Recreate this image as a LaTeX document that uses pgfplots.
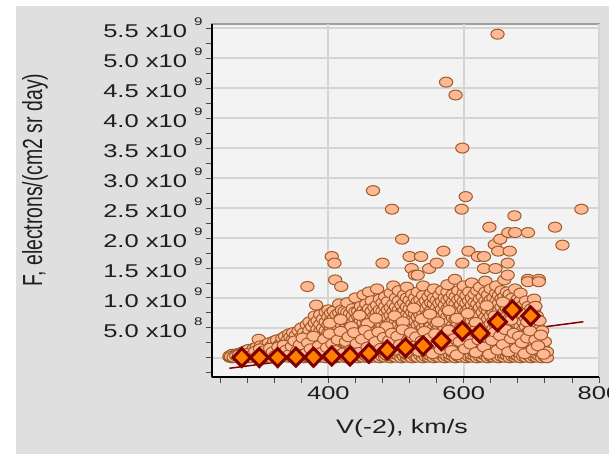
\documentclass[border=0pt]{standalone}
\usepackage{pgfplots}
\pgfplotsset{compat=1.18}
\usepackage{graphicx}
\usepackage{fontspec}
\setmainfont{Liberation Sans}[FakeStretch=1.38]
\newfontfamily\plainsans{Liberation Sans}
\definecolor{panelgray}{HTML}{DFDFDF}
\definecolor{plotbg}{HTML}{F3F3F3}
\definecolor{gridgray}{HTML}{D5D5D5}
\definecolor{peach}{HTML}{FFB894}
\definecolor{peachedge}{HTML}{9E5A26}
\definecolor{darkred}{HTML}{800000}
\definecolor{dorange}{HTML}{FF8000}
\definecolor{txt}{HTML}{1E1E1E}
% tick label: mantissa x10 with raised exponent
\newcommand{\yl}[2]{#1 x10\raisebox{12pt}{\fontsize{11}{11}\selectfont\hspace{7pt}#2}}
\begin{document}
\begin{tikzpicture}
\useasboundingbox (0,0) rectangle (609pt,454pt);
\clip (0,0) rectangle (609pt,454pt);
\fill[white] (0,0) rectangle (609pt,454pt);
\fill[panelgray] (16pt,0) rectangle (609pt,448pt);
\begin{axis}[
  at={(212pt,77pt)}, anchor=south west,
  scale only axis, width=387pt, height=353pt,
  xmin=228, xmax=800, ymin=-0.32, ymax=5.57,
  axis lines*=left,
  axis line style={-, black, line width=2.5pt},
  tick pos=left,
  tick align=outside,
  major tick length=6pt, minor tick length=6pt,
  every tick/.style={gray!60!black, line width=0.8pt},
  axis background/.style={fill=plotbg, draw=gray!75, line width=1.5pt},
  grid=major,
  major grid style={gridgray, line width=1.8pt},
  xtick={400,600,800},
  xticklabels={400,600,800},
  minor xtick={240,280,320,360,440,480,520,560,640,680,720,760},
  ytick={0,0.5,1,1.5,2,2.5,3,3.5,4,4.5,5,5.5},
  yticklabels={{},\yl{5.0}{8},\yl{1.0}{9},\yl{1.5}{9},\yl{2.0}{9},\yl{2.5}{9},\yl{3.0}{9},\yl{3.5}{9},\yl{4.0}{9},\yl{4.5}{9},\yl{5.0}{9},\yl{5.5}{9}},
  minor ytick={-0.25,0.25,0.75,1.25,1.75,2.25,2.75,3.25,3.75,4.25,4.75,5.25},
  tick label style={font=\fontsize{18.5}{22}\selectfont, text=txt},
]
% individual daily values
\addplot[only marks, mark=*, mark size=5pt,
  mark options={xscale=1.33, fill=peach, draw=peachedge, line width=1pt}]
coordinates {
(254,0.01)(254,0.03)(258,0.0)(258,0.04)(258,0.06)(262,0.02)(262,0.05)
(266,0.01)(266,0.07)(266,0.04)(270,0.0)(270,0.03)(270,0.08)
(274,0.02)(274,0.06)(274,0.1)(278,0.01)(278,0.05)(278,0.12)
(282,0.0)(282,0.03)(282,0.08)(282,0.14)(286,0.02)(286,0.06)(286,0.1)
(290,0.01)(290,0.04)(290,0.09)(290,0.16)(294,0.0)(294,0.05)(294,0.12)(294,0.18)
(297,0.31)(297,0.02)(297,0.08)
(300,0.03)(300,0.07)(300,0.13)(300,0.2)(304,0.0)(304,0.05)(304,0.1)(304,0.17)
(308,0.02)(308,0.08)(308,0.15)(308,0.22)(312,0.01)(312,0.04)(312,0.11)(312,0.19)(312,0.25)
(316,0.0)(316,0.06)(316,0.13)(316,0.2)(320,0.03)(320,0.09)(320,0.16)(320,0.24)(320,0.28)
(324,0.01)(324,0.05)(324,0.12)(324,0.2)(324,0.3)(328,0.0)(328,0.07)(328,0.14)(328,0.22)
(332,0.02)(332,0.1)(332,0.18)(332,0.27)(332,0.33)(336,0.04)(336,0.08)(336,0.15)(336,0.24)(336,0.36)
(340,0.01)(340,0.06)(340,0.12)(340,0.2)(340,0.3)(342,0.4)
(344,0.03)(344,0.1)(344,0.17)(344,0.26)(344,0.35)
(348,0.0)(348,0.05)(348,0.13)(348,0.22)(348,0.32)(348,0.42)
(352,0.02)(352,0.08)(352,0.16)(352,0.25)(352,0.38)
(356,0.01)(356,0.06)(356,0.11)(356,0.2)(356,0.3)(356,0.45)
(360,0.03)(360,0.09)(360,0.15)(360,0.24)(360,0.35)(360,0.5)
(364,0.0)(364,0.05)(364,0.12)(364,0.2)(364,0.28)(364,0.42)
(369,1.19)
(368,0.02)(368,0.08)(368,0.17)(368,0.26)(368,0.37)(368,0.55)
(372,0.01)(372,0.04)(372,0.1)(372,0.19)(372,0.3)(372,0.46)(372,0.6)
(376,0.03)(376,0.07)(376,0.14)(376,0.23)(376,0.34)(376,0.52)
(380,0.0)(380,0.05)(380,0.11)(380,0.2)(380,0.28)(380,0.4)(380,0.58)(380,0.7)
(382,0.88)
(384,0.02)(384,0.09)(384,0.16)(384,0.25)(384,0.36)(384,0.48)(384,0.62)
(388,0.01)(388,0.06)(388,0.13)(388,0.22)(388,0.32)(388,0.44)(388,0.56)(388,0.72)
(392,0.04)(392,0.1)(392,0.18)(392,0.27)(392,0.38)(392,0.5)(392,0.65)
(396,0.0)(396,0.07)(396,0.15)(396,0.24)(396,0.34)(396,0.46)(396,0.6)(396,0.76)
(400,0.02)(400,0.05)(400,0.12)(400,0.2)(400,0.3)(400,0.42)(400,0.55)(400,0.68)(400,0.8)
(404,0.01)(404,0.08)(404,0.16)(404,0.26)(404,0.37)(404,0.5)(404,0.63)(404,0.75)(405,1.69)
(408,0.03)(408,0.1)(408,0.19)(408,0.29)(408,0.4)(408,0.52)(408,0.66)(408,0.78)(409,1.58)
(410,1.30)(419,1.19)
(412,0.0)(412,0.06)(412,0.14)(412,0.23)(412,0.34)(412,0.46)(412,0.58)(412,0.72)
(416,0.02)(416,0.09)(416,0.17)(416,0.27)(416,0.38)(416,0.5)(416,0.62)(416,0.75)(416,0.9)
(420,0.01)(420,0.05)(420,0.12)(420,0.21)(420,0.31)(420,0.43)(420,0.55)(420,0.68)(420,0.8)
(424,0.03)(424,0.08)(424,0.16)(424,0.25)(424,0.36)(424,0.48)(424,0.7)(424,0.78)
(428,0.0)(428,0.06)(428,0.13)(428,0.22)(428,0.33)(428,0.44)(428,0.66)(428,0.76)(428,0.92)
(432,0.02)(432,0.1)(432,0.18)(432,0.28)(432,0.39)(432,0.5)(432,0.62)(432,0.74)
(436,0.01)(436,0.07)(436,0.15)(436,0.24)(436,0.35)(436,0.47)(436,0.58)(436,0.7)(436,0.82)
(440,0.04)(440,0.11)(440,0.2)(440,0.3)(440,0.41)(440,0.53)(440,0.65)(440,0.77)(440,1.0)
(444,0.0)(444,0.05)(444,0.13)(444,0.22)(444,0.33)(444,0.45)(444,0.57)(444,0.69)(444,0.78)
(448,0.02)(448,0.09)(448,0.17)(448,0.27)(448,0.38)(448,0.5)(448,0.62)(448,0.74)(448,0.86)
(452,0.01)(452,0.06)(452,0.14)(452,0.24)(452,0.35)(452,0.46)(452,0.58)(452,0.7)(452,0.8)(452,1.05)
(456,0.03)(456,0.1)(456,0.19)(456,0.29)(456,0.4)(456,0.52)(456,0.64)(456,0.76)(456,0.9)
(460,0.0)(460,0.07)(460,0.15)(460,0.25)(460,0.36)(460,0.48)(460,0.6)(460,0.72)(460,0.82)(460,1.1)
(464,0.02)(464,0.11)(464,0.2)(464,0.31)(464,0.42)(464,0.55)(464,0.67)(464,0.78)(464,0.95)
(466,2.79)
(468,0.01)(468,0.05)(468,0.13)(468,0.23)(468,0.34)(468,0.46)(468,0.58)(468,0.7)(468,0.84)
(472,0.04)(472,0.09)(472,0.18)(472,0.28)(472,0.39)(472,0.5)(472,0.62)(472,0.75)(472,0.88)(472,1.15)
(476,0.0)(476,0.06)(476,0.15)(476,0.25)(476,0.36)(476,0.48)(476,0.6)(476,0.72)(476,0.8)(476,0.98)
(480,0.02)(480,0.1)(480,0.2)(480,0.31)(480,0.42)(480,0.54)(480,0.66)(480,0.78)(480,0.92)(480,1.58)
(484,0.01)(484,0.07)(484,0.16)(484,0.26)(484,0.37)(484,0.49)(484,0.61)(484,0.74)(484,0.86)(484,1.02)
(488,0.03)(488,0.12)(488,0.22)(488,0.33)(488,0.44)(488,0.56)(488,0.68)(488,0.8)(488,0.94)
(492,0.0)(492,0.05)(492,0.14)(492,0.24)(492,0.35)(492,0.47)(492,0.59)(492,0.71)(492,0.84)(492,1.08)
(494,2.48)
(496,0.02)(496,0.09)(496,0.18)(496,0.29)(496,0.4)(496,0.52)(496,0.64)(496,0.77)(496,0.9)(496,1.2)
(500,0.01)(500,0.06)(500,0.15)(500,0.25)(500,0.36)(500,0.48)(500,0.6)(500,0.73)(500,0.85)(500,1.0)
(504,0.04)(504,0.11)(504,0.21)(504,0.32)(504,0.43)(504,0.55)(504,0.67)(504,0.8)(504,0.95)(504,1.12)
(508,0.0)(508,0.07)(508,0.16)(508,0.26)(508,0.38)(508,0.5)(508,0.62)(508,0.75)(508,0.88)
(509,1.98)
(512,0.02)(512,0.1)(512,0.19)(512,0.3)(512,0.41)(512,0.53)(512,0.66)(512,0.78)(512,0.92)(512,1.05)
(516,0.01)(516,0.05)(516,0.14)(516,0.24)(516,0.35)(516,0.47)(516,0.6)(516,0.72)(516,0.85)(516,1.0)(516,1.18)
(520,0.03)(520,0.12)(520,0.22)(520,0.33)(520,0.45)(520,0.57)(520,0.7)(520,0.82)(520,0.96)(520,1.69)
(523,1.49)
(524,0.0)(524,0.08)(524,0.17)(524,0.28)(524,0.39)(524,0.51)(524,0.64)(524,0.76)(524,0.9)(524,1.06)
(528,0.02)(528,0.06)(528,0.15)(528,0.25)(528,0.37)(528,0.49)(528,0.61)(528,0.74)(528,0.87)(528,1.0)(528,1.38)
(532,0.01)(532,0.1)(532,0.2)(532,0.31)(532,0.43)(532,0.55)(532,0.68)(532,0.8)(532,0.94)(532,1.1)(532,1.38)
(536,0.04)(536,0.13)(536,0.23)(536,0.34)(536,0.46)(536,0.58)(536,0.71)(536,0.84)(536,0.97)(537,1.69)
(540,0.0)(540,0.07)(540,0.16)(540,0.27)(540,0.38)(540,0.5)(540,0.63)(540,0.76)(540,0.9)(540,1.04)(540,1.2)
(544,0.02)(544,0.11)(544,0.21)(544,0.32)(544,0.44)(544,0.56)(544,0.69)(544,0.82)(544,0.95)
(548,0.01)(548,0.05)(548,0.14)(548,0.25)(548,0.36)(548,0.48)(548,0.61)(548,0.74)(548,0.88)(548,1.02)(549,1.49)
(552,0.03)(552,0.09)(552,0.18)(552,0.29)(552,0.41)(552,0.53)(552,0.66)(552,0.79)(552,0.92)(552,1.08)
(556,0.0)(556,0.06)(556,0.15)(556,0.26)(556,0.38)(556,0.5)(556,0.63)(556,0.76)(556,0.9)(556,1.0)(556,1.15)
(560,0.02)(560,0.12)(560,0.22)(560,0.33)(560,0.45)(560,0.57)(560,0.7)(560,0.83)(560,0.96)(560,1.58)
(564,0.01)(564,0.08)(564,0.17)(564,0.28)(564,0.4)(564,0.52)(564,0.65)(564,0.78)(564,0.91)(564,1.05)
(568,0.04)(568,0.1)(568,0.2)(568,0.31)(568,0.43)(568,0.55)(568,0.68)(568,0.81)(568,0.94)(568,1.12)
(570,1.78)
(572,0.0)(572,0.06)(572,0.15)(572,0.26)(572,0.37)(572,0.49)(572,0.62)(572,0.75)(572,0.88)(572,1.0)
(574,4.60)
(576,0.02)(576,0.11)(576,0.21)(576,0.32)(576,0.44)(576,0.56)(576,0.69)(576,0.82)(576,0.96)(576,1.1)(576,1.22)
(580,0.01)(580,0.05)(580,0.14)(580,0.25)(580,0.36)(580,0.48)(580,0.61)(580,0.74)(580,0.87)(580,1.0)
(584,0.03)(584,0.09)(584,0.19)(584,0.3)(584,0.42)(584,0.54)(584,0.67)(584,0.8)(584,0.93)(584,1.06)
(587,1.31)
(588,0.0)(588,0.07)(588,0.16)(588,0.27)(588,0.39)(588,0.51)(588,0.64)(588,0.77)(588,0.9)(588,1.02)(588,4.385)
(592,0.02)(592,0.12)(592,0.22)(592,0.33)(592,0.45)(592,0.57)(592,0.7)(592,0.83)(592,0.97)(592,1.12)
(596,0.01)(596,0.06)(596,0.15)(596,0.26)(596,0.38)(596,0.5)(596,0.63)(596,0.76)(596,0.89)(596,1.0)
(597,2.48)(598,3.50)(598,1.58)
(600,0.04)(600,0.1)(600,0.2)(600,0.31)(600,0.43)(600,0.55)(600,0.68)(600,0.81)(600,0.94)(600,1.08)(600,1.2)
(603,2.69)
(604,0.0)(604,0.08)(604,0.17)(604,0.28)(604,0.4)(604,0.52)(604,0.65)(604,0.78)(604,0.91)(604,1.04)
(607,1.78)
(608,0.02)(608,0.11)(608,0.21)(608,0.32)(608,0.44)(608,0.56)(608,0.69)(608,0.82)(608,0.95)(608,1.1)
(612,0.01)(612,0.05)(612,0.14)(612,0.25)(612,0.37)(612,0.49)(612,0.62)(612,0.75)(612,0.88)(612,1.0)(612,1.25)
(616,0.03)(616,0.09)(616,0.19)(616,0.3)(616,0.42)(616,0.54)(616,0.67)(616,0.8)(616,0.93)(616,1.06)
(620,0.0)(620,0.07)(620,0.16)(620,0.27)(620,0.39)(620,0.51)(620,0.64)(620,0.77)(620,0.9)(620,1.12)
(621,1.69)
(624,0.02)(624,0.12)(624,0.22)(624,0.33)(624,0.45)(624,0.58)(624,0.7)(624,0.84)(624,0.98)(624,1.18)
(628,0.01)(628,0.06)(628,0.15)(628,0.26)(628,0.38)(628,0.5)(628,0.63)(628,0.76)(628,0.89)(628,1.02)
(630,1.69)(630,1.49)
(632,0.04)(632,0.1)(632,0.2)(632,0.31)(632,0.43)(632,0.55)(632,0.68)(632,0.82)(632,0.95)(632,1.1)(632,1.28)
(636,0.0)(636,0.08)(636,0.17)(636,0.28)(636,0.4)(636,0.52)(636,0.65)(636,0.78)(636,0.92)(636,1.05)
(638,2.18)
(640,0.02)(640,0.11)(640,0.21)(640,0.32)(640,0.44)(640,0.57)(640,0.7)(640,0.83)(640,0.97)(640,1.15)
(644,0.01)(644,0.05)(644,0.14)(644,0.25)(644,0.37)(644,0.49)(644,0.62)(644,0.75)(644,0.88)(644,1.0)
(646,1.89)(647,1.49)
(648,0.03)(648,0.09)(648,0.19)(648,0.3)(648,0.42)(648,0.54)(648,0.67)(648,0.8)(648,0.94)(648,1.08)(648,1.2)
(650,5.40)(651,1.78)
(652,0.0)(652,0.07)(652,0.16)(652,0.27)(652,0.39)(652,0.52)(652,0.65)(652,0.78)(652,0.91)(652,1.04)
(654,1.98)
(656,0.02)(656,0.12)(656,0.22)(656,0.34)(656,0.46)(656,0.58)(656,0.71)(656,0.85)(656,0.99)(656,1.12)
(660,0.01)(660,0.06)(660,0.15)(660,0.26)(660,0.38)(660,0.5)(660,0.63)(660,0.76)(660,0.9)(660,1.02)(660,1.3)
(664,0.04)(664,0.1)(664,0.2)(664,0.31)(664,0.43)(664,0.56)(664,0.69)(664,0.82)(664,0.96)(664,1.1)
(665,1.58)(665,1.38)(666,2.09)
(668,0.0)(668,0.08)(668,0.18)(668,0.29)(668,0.41)(668,0.53)(668,0.66)(668,0.8)(668,0.94)(668,1.06)(668,1.78)
(672,0.02)(672,0.11)(672,0.21)(672,0.33)(672,0.45)(672,0.58)(672,0.72)(672,0.86)(672,1.0)
(675,2.37)(676,2.09)
(676,0.01)(676,0.05)(676,0.15)(676,0.26)(676,0.38)(676,0.5)(676,0.64)(676,0.78)(676,0.92)(676,1.15)
(680,0.03)(680,0.09)(680,0.19)(680,0.31)(680,0.43)(680,0.56)(680,0.7)(680,0.84)(680,0.98)
(684,0.0)(684,0.07)(684,0.17)(684,0.28)(684,0.4)(684,0.53)(684,0.67)(684,0.81)(684,0.95)(684,1.08)
(688,0.02)(688,0.12)(688,0.22)(688,0.34)(688,0.47)(688,0.6)(688,0.74)(688,0.88)
(692,0.01)(692,0.06)(692,0.15)(692,0.27)(692,0.39)(692,0.52)(692,0.66)(692,0.8)(692,0.95)
(695,2.09)(695,1.31)(695,1.27)
(696,0.04)(696,0.1)(696,0.2)(696,0.32)(696,0.44)(696,0.58)(696,0.72)(696,0.86)
(700,0.0)(700,0.08)(700,0.18)(700,0.3)(700,0.42)(700,0.55)(700,0.7)(700,0.82)
(704,0.02)(704,0.12)(704,0.25)(704,0.38)(704,0.5)(704,0.64)(704,0.78)(704,0.98)
(708,0.01)(708,0.06)(708,0.16)(708,0.28)(708,0.42)(708,0.56)(708,0.7)
(711,1.31)(711,1.27)
(712,0.03)(712,0.1)(712,0.22)(712,0.35)(712,0.48)(712,0.62)
(716,0.0)(716,0.08)(716,0.18)(716,0.3)(716,0.45)
(720,0.02)(720,0.12)(720,0.27)(723,0.0)(723,0.1)
(735,2.18)(746,1.88)(774,2.48)
(402,0.58)(418,0.64)(434,0.52)(446,0.71)(458,0.57)(470,0.66)(486,0.52)(498,0.7)
(510,0.6)(526,0.83)(538,0.65)(550,0.73)(562,0.6)(578,0.79)(590,0.66)(606,0.74)
(618,0.59)(634,0.87)(646,0.7)(658,0.93)(670,0.63)(682,0.76)(694,0.6)(706,0.86)
(256,0.02)(260,0.01)(264,0.03)(268,0.05)(272,0.02)(276,0.04)(280,0.07)(284,0.01)
(288,0.05)(292,0.11)(296,0.03)(299,0.15)(302,0.09)(306,0.12)(310,0.06)(314,0.16)
(318,0.1)(322,0.04)(326,0.18)(330,0.08)(334,0.21)(338,0.13)(342,0.05)(346,0.19)
(350,0.28)(354,0.12)(358,0.22)(362,0.33)(366,0.07)(370,0.25)(374,0.15)(378,0.36)
(386,0.2)(390,0.09)(394,0.31)(398,0.17)(402,0.4)(406,0.23)(410,0.12)(414,0.3)
(418,0.44)(422,0.08)(426,0.27)(430,0.35)(434,0.14)(438,0.42)(442,0.24)(446,0.09)
(450,0.31)(454,0.46)(458,0.18)(462,0.38)(466,0.1)(470,0.27)(474,0.43)(478,0.16)
(482,0.34)(486,0.05)(490,0.29)(494,0.41)(498,0.13)(502,0.36)(506,0.22)(510,0.47)
(514,0.08)(518,0.3)(522,0.42)(526,0.19)(530,0.35)(534,0.11)(538,0.28)(542,0.44)
(546,0.17)(550,0.33)(554,0.07)(558,0.4)(562,0.24)(566,0.14)(570,0.37)(574,0.21)
(578,0.46)(582,0.12)(586,0.32)(590,0.05)(594,0.27)(598,0.41)(602,0.15)(606,0.35)
(610,0.23)(614,0.44)(618,0.09)(622,0.3)(626,0.4)(630,0.18)(634,0.34)(638,0.06)
(642,0.29)(646,0.43)(650,0.13)(654,0.37)(658,0.22)(662,0.47)(666,0.1)(670,0.32)
(674,0.41)(678,0.16)(682,0.36)(686,0.25)(690,0.07)(694,0.33)(698,0.45)(702,0.14)
(706,0.3)(710,0.2)(714,0.38)(718,0.06)
};
% linear fit
\addplot[no marks, darkred, line width=1.5pt] coordinates {(253.6,-0.175) (776.8,0.602)};
% bin averages with errors
\addplot[only marks, mark=diamond*, mark size=9pt,
  mark options={xscale=1.3, fill=dorange, draw=darkred, line width=3pt},
  error bars/.cd, y dir=both, y explicit,
  error bar style={darkred, line width=1.5pt},
  error mark options={darkred, line width=1.5pt, mark size=5pt, rotate=90}]
coordinates {
(272,0.005) +- (0,0.01)
(298,0.005) +- (0,0.01)
(325,0.005) +- (0,0.01)
(352,0.01) +- (0,0.01)
(378,0.01) +- (0,0.01)
(405,0.03) +- (0,0.01)
(432,0.03) +- (0,0.01)
(460,0.075) +- (0,0.02)
(487,0.13) +- (0,0.02)
(514,0.17) +- (0,0.02)
(540,0.2) +- (0,0.03)
(567,0.285) +- (0,0.04)
(598,0.447) +- (0,0.06)
(624,0.41) +- (0,0.06)
(650,0.6) +- (0,0.1)
(672,0.8) +- (0,0.16)
(699,0.7) +- (0,0.21)
};
\end{axis}
\node[text=txt, font=\fontsize{19.5}{23}\selectfont] at (402pt,26pt) {V(-2), km/s};
\node[text=txt, rotate=90] at (35pt,274pt)
  {\scalebox{1}[1.42]{\plainsans\fontsize{19.4}{23}\selectfont F, electrons/(cm2 sr day)}};
\end{tikzpicture}
\end{document}
